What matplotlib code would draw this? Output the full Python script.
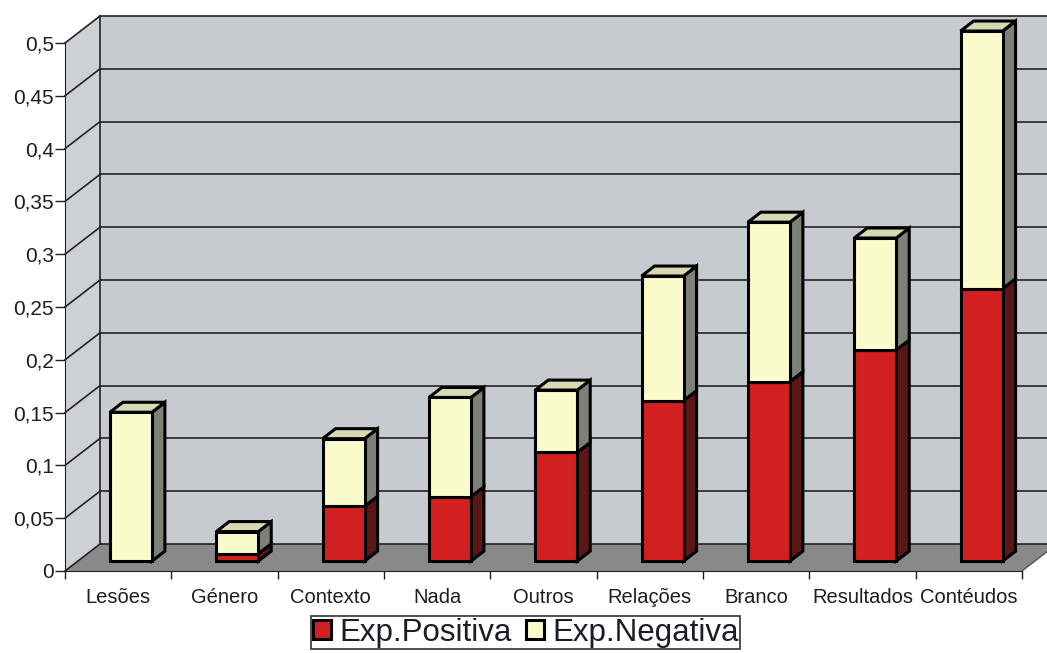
import numpy as np
import matplotlib
matplotlib.use("Agg")
import matplotlib.pyplot as plt
from matplotlib.patches import Polygon

plt.rcParams['font.family'] = ['Liberation Sans', 'DejaVu Sans']

categorias = ['Lesões', 'Género', 'Contexto', 'Nada', 'Outros',
              'Relações', 'Branco', 'Resultados', 'Contéudos']
exp_positiva = [0.0, 0.007, 0.052, 0.061, 0.103, 0.152, 0.170, 0.200, 0.258]
exp_negativa = [0.141, 0.021, 0.064, 0.094, 0.059, 0.118, 0.151, 0.106, 0.244]
yticks = [0, 0.05, 0.1, 0.15, 0.2, 0.25, 0.3, 0.35, 0.4, 0.45, 0.5]
ytick_labels = ['0', '0,05', '0,1', '0,15', '0,2', '0,25', '0,3', '0,35', '0,4', '0,45', '0,5']

# cores
vermelho = '#d21f1f'
vermelho_lado = '#5b1717'
creme = '#f9fbcb'
creme_lado = '#7d8077'
creme_topo = '#d6d9b1'
parede = '#c7cbcf'
parede_esq = '#cdd1d5'
chao = '#898989'

fig = plt.figure(figsize=(10.47, 6.53), dpi=100)
ax = fig.add_axes([65/1047, 82/653, 957/1047, 528/653])
ax.set_xlim(0, 9)
ax.set_ylim(0, 0.5)
ax.patch.set_visible(False)

n = len(categorias)
# deslocamento da profundidade (efeito 3D) em unidades dos dados
DX = 35 / 957 * 9
DY = 27 / 528 * 0.5
F = 0.365   # frente da barra
D = 0.37    # profundidade da barra
W = 0.395
LW = 2.2

def poly(pts, fc, z, ec='none', lw=0):
    ax.add_patch(Polygon(pts, closed=True, facecolor=fc, edgecolor=ec,
                         linewidth=lw, zorder=z, clip_on=False))

# paredes e chao
poly([(DX, DY), (n + 2, DY), (n + 2, 0.5 + DY), (DX, 0.5 + DY)], parede, 0)
poly([(0, 0), (0, 0.5), (DX, 0.5 + DY), (DX, DY)], parede_esq, 0)
poly([(0, 0), (n, 0), (n + DX, DY), (DX, DY)], chao, 0.5)

# grelha
for v in yticks:
    ax.plot([DX, n + 2], [v + DY, v + DY], color='#222222', lw=1.2,
            zorder=1, clip_on=False)
    ax.plot([0, DX], [v, v + DY], color='#222222', lw=1.2, zorder=1, clip_on=False)
ax.plot([DX, DX], [DY, 0.5 + DY], color='#222222', lw=1.2, zorder=1, clip_on=False)
ax.plot([n, n + DX], [0, DY], color='#555555', lw=1.0, zorder=1, clip_on=False)

# barras
x = np.arange(n) + 0.5 + F * DX
pos = np.array(exp_positiva)
neg = np.array(exp_negativa)
b1 = ax.bar(x, pos, W, bottom=F * DY, color=vermelho, edgecolor='black',
            linewidth=LW, zorder=3, label='Exp.Positiva', clip_on=False)
b2 = ax.bar(x, neg, W, bottom=F * DY + pos, color=creme, edgecolor='black',
            linewidth=LW, zorder=3, label='Exp.Negativa', clip_on=False)

for i in range(n):
    x1 = x[i] + W / 2
    x0 = x[i] - W / 2
    segs = [(0, pos[i], vermelho_lado), (pos[i], pos[i] + neg[i], creme_lado)]
    for y0, y1, cor in segs:
        if y1 - y0 <= 0:
            continue
        a = F * DY
        poly([(x1, y0 + a), (x1, y1 + a), (x1 + D * DX, y1 + a + D * DY),
              (x1 + D * DX, y0 + a + D * DY)], cor, 2.9, 'black', LW)
    top = pos[i] + neg[i] + F * DY
    poly([(x0, top), (x1, top), (x1 + D * DX, top + D * DY),
          (x0 + D * DX, top + D * DY)], creme_topo, 2.9, 'black', LW)

# eixos
for s in ['top', 'right']:
    ax.spines[s].set_visible(False)
ax.spines['left'].set_color('#222222')
ax.spines['bottom'].set_color('#222222')
ax.spines['left'].set_zorder(1.5)
ax.spines['bottom'].set_zorder(1.5)
ax.set_yticks(yticks)
ax.set_yticklabels(ytick_labels)
ax.tick_params(axis='y', length=7, width=1, pad=1, labelsize=15, colors='#1c1c26')
ax.set_xticks(np.arange(n + 1))
ax.set_xticklabels([])
ax.set_xticks(np.arange(n) + 0.5, minor=True)
ax.set_xticklabels(categorias, minor=True)
ax.tick_params(axis='x', which='major', length=6, width=1, colors='#1c1c26')
ax.tick_params(axis='x', which='minor', length=0, pad=12, labelsize=14.5,
               labelcolor='#1c1c26')

leg = fig.legend(handles=[b1, b2], loc='upper left',
                 bbox_to_anchor=(311/1047, 1 - 616/653), ncol=2, fontsize=22.5,
                 frameon=True, fancybox=False, edgecolor='black',
                 handlelength=0.6, handleheight=0.6, handletextpad=0.25,
                 columnspacing=0.45, borderpad=0.05, borderaxespad=0)
leg.get_frame().set_linewidth(1.2)
for t in leg.get_texts():
    t.set_color('#1c1c26')

fig.savefig('out.png', dpi=100, facecolor='white')
